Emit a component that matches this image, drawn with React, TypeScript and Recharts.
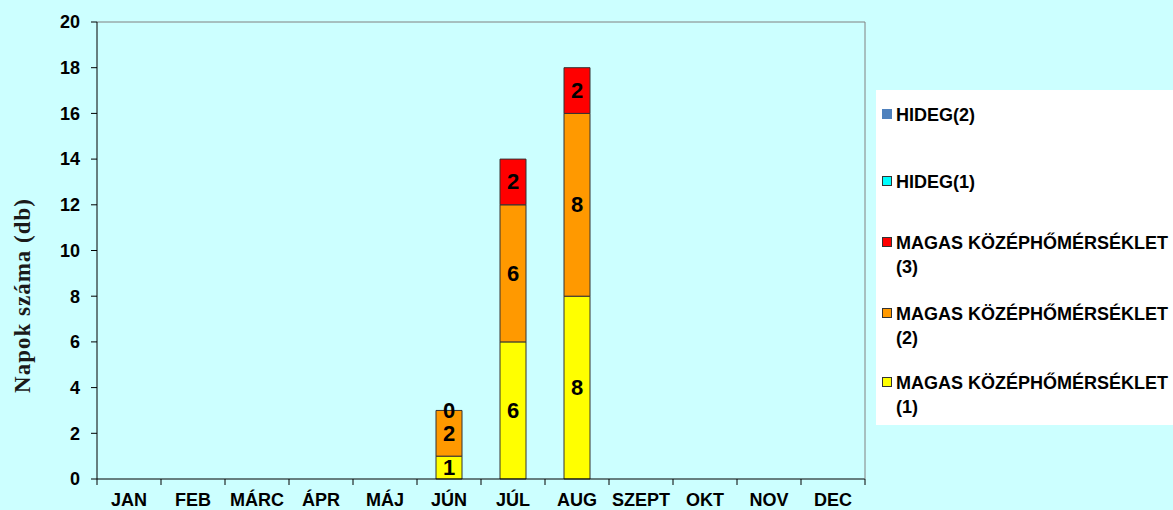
import React from 'react';
import {
  BarChart, Bar, XAxis, YAxis, LabelList,
} from 'recharts';

// Hőségnapok / hideg napok havonta (db)
const months = ['JAN', 'FEB', 'MÁRC', 'ÁPR', 'MÁJ', 'JÚN', 'JÚL', 'AUG', 'SZEPT', 'OKT', 'NOV', 'DEC'];
const magas1: (number | null)[] = [null, null, null, null, null, 1, 6, 8, null, null, null, null];
const magas2: (number | null)[] = [null, null, null, null, null, 2, 6, 8, null, null, null, null];
const magas3: (number | null)[] = [null, null, null, null, null, 0, 2, 2, null, null, null, null];
const hideg1: (number | null)[] = [null, null, null, null, null, null, null, null, null, null, null, null];
const hideg2: (number | null)[] = [null, null, null, null, null, null, null, null, null, null, null, null];
const yTicks = [0, 2, 4, 6, 8, 10, 12, 14, 16, 18, 20];

const series = [
  { key: 'magas1', name: 'MAGAS KÖZÉPHŐMÉRSÉKLET', sub: '(1)', color: '#FFFF00', values: magas1 },
  { key: 'magas2', name: 'MAGAS KÖZÉPHŐMÉRSÉKLET', sub: '(2)', color: '#FF9900', values: magas2 },
  { key: 'magas3', name: 'MAGAS KÖZÉPHŐMÉRSÉKLET', sub: '(3)', color: '#FF0000', values: magas3 },
  { key: 'hideg1', name: 'HIDEG(1)', sub: '', color: '#00FFFF', values: hideg1 },
  { key: 'hideg2', name: 'HIDEG(2)', sub: '', color: '#4F81BD', values: hideg2 },
];

const data = months.map((m, i) => {
  const row: Record<string, string | number | null> = { month: m };
  series.forEach((s) => { row[s.key] = s.values[i]; });
  return row;
});

const FONT = '"Liberation Sans", Arial, sans-serif';
const SERIF = '"Liberation Serif", "Times New Roman", serif';

const labelText = (x: number, y: number, value: any) => (
  <text
    x={x}
    y={y}
    textAnchor="middle"
    dominantBaseline="central"
    fontFamily={FONT}
    fontWeight="bold"
    fontSize={22}
    fill="#000"
  >
    {value}
  </text>
);

const SegmentLabel = (props: any) => {
  const { x, y, width, height, value } = props;
  if (value === null || value === undefined || !height) return null;
  return labelText(x + width / 2, y + height / 2, value);
};

// zero-height segment on top of the orange one: its label sits on the bar top
const ZeroOnTop = (props: any) => {
  const { x, y, width, value } = props;
  if (value !== 0) return null;
  return labelText(x + width / 2, y, value);
};

// month label in the band centre, tick marks on the band edges
const MonthTick = (props: any) => {
  const { x, y, payload } = props;
  const half = payload.offset || 0;
  const isLast = payload.index === months.length - 1;
  return (
    <g>
      <line x1={x - half} x2={x - half} y1={y} y2={y + 6} stroke="#000" />
      {isLast ? <line x1={x + half} x2={x + half} y1={y} y2={y + 6} stroke="#000" /> : null}
      <text
        x={x}
        y={y + 21}
        textAnchor="middle"
        dominantBaseline="central"
        fontFamily={FONT}
        fontWeight="bold"
        fontSize={18}
        fill="#000"
      >
        {payload.value}
      </text>
    </g>
  );
};

const AxisTitle = (props: any) => {
  const vb = props.viewBox;
  const cx = vb.x - 13;
  const cy = vb.y + vb.height / 2 + 45;
  return (
    <text
      x={cx}
      y={cy}
      transform={`rotate(-90 ${cx} ${cy})`}
      textAnchor="middle"
      dominantBaseline="central"
      fontFamily={SERIF}
      fontWeight="bold"
      fontSize={23}
      letterSpacing={1}
      fill="#1a1a1a"
    >
      Napok száma (db)
    </text>
  );
};

const legendTops = [13, 80, 141, 212, 281];

function LegendBox() {
  const items = [...series].reverse();
  return (
    <div style={{ position: 'absolute', left: 876, top: 90, width: 297, height: 335, background: '#fff', fontFamily: FONT }}>
      {items.map((it, i) => (
        <div key={it.key} style={{ position: 'absolute', left: 6, top: legendTops[i], fontSize: 18, fontWeight: 'bold', lineHeight: '24px', color: '#000', whiteSpace: 'nowrap' }}>
          <span style={{
            display: 'inline-block', width: 8, height: 8, background: it.color,
            border: it.key === 'hideg2' ? '1px solid #4F81BD' : '1px solid #333',
            marginRight: 4, verticalAlign: 'middle', position: 'relative', top: -2,
          }} />
          {it.name}
          {it.sub ? <div style={{ marginLeft: 14 }}>{it.sub}</div> : null}
        </div>
      ))}
    </div>
  );
}

export default function App() {
  return (
    <div style={{ position: 'absolute', left: 0, top: 0, width: 1173, height: 510, background: '#CCFFFF' }}>
      <BarChart
        width={1173}
        height={510}
        data={data}
        margin={{ top: 21, right: 307, bottom: 0, left: 35 }}
        barSize={26}
      >
        <XAxis
          xAxisId="m"
          dataKey="month"
          height={31}
          axisLine={{ stroke: '#000' }}
          tickLine={false}
          tickSize={0}
          tickMargin={0}
          interval={0}
          tick={MonthTick}
        />
        <XAxis
          xAxisId="t"
          orientation="top"
          type="number"
          domain={[0, 12]}
          allowDataOverflow
          height={1}
          tick={false}
          tickLine={false}
          axisLine={{ stroke: '#808080' }}
        />
        <YAxis
          domain={[0, 20]}
          ticks={yTicks}
          interval={0}
          width={62}
          tickSize={6}
          tickMargin={11}
          axisLine={{ stroke: '#000' }}
          tickLine={{ stroke: '#000' }}
          tick={{ fontFamily: FONT, fontWeight: 'bold', fontSize: 18, fill: '#000' }}
          label={{ content: AxisTitle }}
        />
        <YAxis
          yAxisId="r"
          orientation="right"
          domain={[0, 20]}
          allowDataOverflow
          width={1}
          tick={false}
          tickLine={false}
          axisLine={{ stroke: '#808080' }}
        />
        {series.map((s) => (
          <Bar
            key={s.key}
            xAxisId="m"
            dataKey={s.key}
            name={s.name}
            stackId="a"
            fill={s.color}
            stroke="#333"
            strokeWidth={1}
            isAnimationActive={false}
          >
            <LabelList dataKey={s.key} content={SegmentLabel} />
            {s.key === 'magas2' ? <LabelList dataKey="magas3" content={ZeroOnTop} /> : null}
          </Bar>
        ))}
      </BarChart>
      <LegendBox />
    </div>
  );
}
